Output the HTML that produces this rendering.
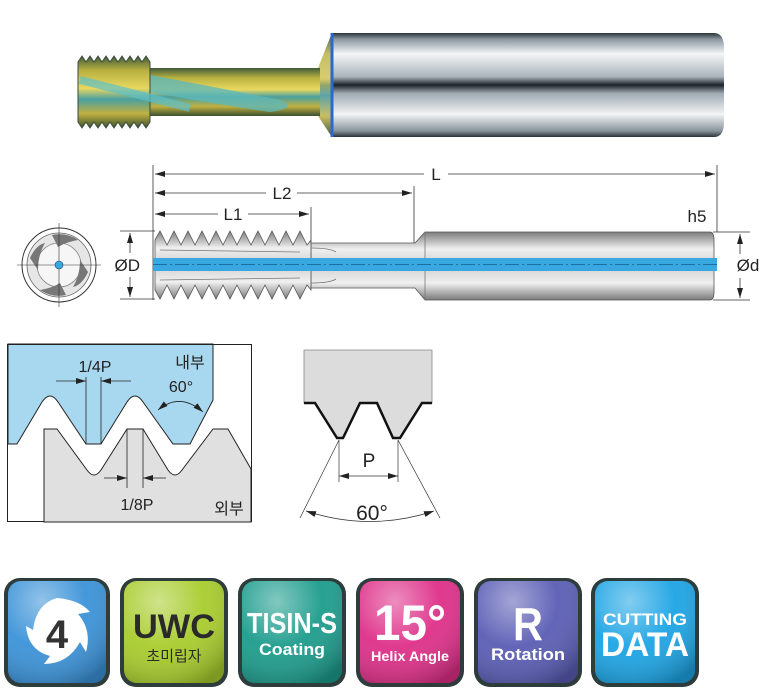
<!DOCTYPE html>
<html><head><meta charset="utf-8"><style>
html,body{margin:0;padding:0;background:#fff;}
svg{display:block;}
text{font-family:"Liberation Sans","Noto Sans CJK KR",sans-serif;}
</style></head><body>
<svg width="766" height="694" viewBox="0 0 766 694" xmlns="http://www.w3.org/2000/svg">
<defs>
<linearGradient id="shk" x1="0" y1="0" x2="0" y2="1">
<stop offset="0" stop-color="#2a3238"/><stop offset="0.06" stop-color="#8d98a0"/><stop offset="0.2" stop-color="#f4f6f7"/><stop offset="0.42" stop-color="#aab4bb"/><stop offset="0.5" stop-color="#1b2328"/><stop offset="0.58" stop-color="#a0aab2"/><stop offset="0.78" stop-color="#f2f4f5"/><stop offset="0.94" stop-color="#8a959d"/><stop offset="1" stop-color="#2a3238"/>
</linearGradient>
<linearGradient id="gold" x1="0" y1="0" x2="0" y2="1">
<stop offset="0" stop-color="#3e5a3a"/><stop offset="0.2" stop-color="#b8b040"/><stop offset="0.45" stop-color="#e8d860"/><stop offset="0.6" stop-color="#4aa0a0"/><stop offset="0.8" stop-color="#c0b040"/><stop offset="1" stop-color="#3a5030"/>
</linearGradient>
<linearGradient id="gr" x1="0" y1="0" x2="0" y2="1">
<stop offset="0" stop-color="#7c7c7c"/><stop offset="0.25" stop-color="#f0f0f0"/><stop offset="0.5" stop-color="#cfcfcf"/><stop offset="0.75" stop-color="#f0f0f0"/><stop offset="1" stop-color="#7a7a7a"/>
</linearGradient>
<radialGradient id="gloss" cx="0.35" cy="0.2" r="0.9">
<stop offset="0" stop-color="#fff" stop-opacity="0.45"/><stop offset="0.5" stop-color="#fff" stop-opacity="0.05"/><stop offset="1" stop-color="#000" stop-opacity="0.25"/>
</radialGradient>
<marker id="ar" markerWidth="10" markerHeight="6" refX="10" refY="3" orient="auto" markerUnits="userSpaceOnUse"><path d="M0,0 L10,3 L0,6 z" fill="#222"/></marker>
<marker id="al" markerWidth="10" markerHeight="6" refX="0" refY="3" orient="auto" markerUnits="userSpaceOnUse"><path d="M10,0 L0,3 L10,6 z" fill="#222"/></marker>
</defs>

<!-- top rendered tool -->
<path d="M318,68 L332,33 L714,33 Q724,33 724,48 L724,122 Q724,137 714,137 L332,137 L318,116 Z" fill="url(#shk)"/>
<path d="M318,68 L332,33 L332,137 L318,116 Z" fill="url(#gold)" opacity="0.8"/>
<path d="M332,33 L332,137" stroke="#2a6ad0" stroke-width="3"/>
<rect x="148" y="68" width="172" height="48" fill="url(#gold)"/>
<path d="M150,75 Q230,90 280,100 Q300,108 270,112 Q220,105 150,92 Z" fill="#5fb8b8" opacity="0.8"/>
<polygon points="78,62 82,56 86,62 90,56 94,62 98,56 102,62 106,56 110,62 114,56 118,62 122,56 126,62 130,56 134,62 138,56 142,62 146,56 150,62 150,122 146,128 142,122 138,128 134,122 130,128 126,122 122,128 118,122 114,128 110,122 106,128 102,122 98,128 94,122 90,128 86,122 82,128 78,122" fill="url(#gold)" stroke="#3a4a40" stroke-width="1"/>
<path d="M80,80 Q140,95 190,108" stroke="#60c0c8" stroke-width="8" fill="none" opacity="0.7"/>

<!-- dimension lines -->
<g stroke="#333" stroke-width="0.8" fill="none">
<line x1="153" y1="165" x2="153" y2="300"/>
<line x1="311" y1="207" x2="311" y2="245"/>
<line x1="414" y1="186" x2="414" y2="245"/>
<line x1="717" y1="165" x2="717" y2="232"/>
<line x1="155" y1="174" x2="424" y2="174" marker-start="url(#al)"/>
<line x1="448" y1="174" x2="715" y2="174" marker-end="url(#ar)"/>
<line x1="155" y1="193" x2="266" y2="193" marker-start="url(#al)"/>
<line x1="297" y1="193" x2="412" y2="193" marker-end="url(#ar)"/>
<line x1="155" y1="214" x2="218" y2="214" marker-start="url(#al)"/>
<line x1="248" y1="214" x2="309" y2="214" marker-end="url(#ar)"/>
<line x1="120" y1="231" x2="155" y2="231"/>
<line x1="120" y1="299" x2="155" y2="299"/>
<line x1="130" y1="233" x2="130" y2="253" marker-start="url(#al)"/>
<line x1="130" y1="277" x2="130" y2="297" marker-end="url(#ar)"/>
<line x1="713" y1="232" x2="750" y2="232"/>
<line x1="713" y1="300" x2="750" y2="300"/>
<line x1="740" y1="234" x2="740" y2="254" marker-start="url(#al)"/>
<line x1="740" y1="278" x2="740" y2="298" marker-end="url(#ar)"/>
</g>
<g font-size="17" fill="#222" text-anchor="middle">
<text x="436" y="180">L</text>
<text x="282" y="199">L2</text>
<text x="233" y="220">L1</text>
<text x="697" y="222">h5</text>
<text x="140" y="271" text-anchor="end">ØD</text>
<text x="748" y="271" text-anchor="middle">Ød</text>
</g>

<!-- drawing tool -->
<path d="M311,243 L415,243 L425,232 L710,232 Q714,232 714,240 L714,292 Q714,300 710,300 L425,300 L415,288 L311,288 Z" fill="url(#gr)" stroke="#555" stroke-width="0.8"/>
<line x1="425" y1="232" x2="425" y2="300" stroke="#777" stroke-width="0.8"/>
<polygon points="155,240 160,231 167,245 174,231 181,245 188,231 195,245 202,231 209,245 216,231 223,245 230,231 237,245 244,231 251,245 258,231 265,245 272,231 279,245 286,231 293,245 300,231 307,245 311,240 311,290 307,285 300,299 293,285 286,299 279,285 272,299 265,285 258,299 251,285 244,299 237,285 230,299 223,285 216,299 209,285 202,299 195,285 188,299 181,285 174,299 167,285 160,299 155,290" fill="url(#gr)" stroke="#555" stroke-width="0.8"/>
<path d="M160,250 L300,252 M160,280 L300,278 M311,248 Q330,248 336,252 M311,283 Q330,283 336,279" stroke="#777" stroke-width="0.8" fill="none"/>
<rect x="153" y="258" width="564" height="13" fill="#3aa8e0"/>
<line x1="153" y1="264.5" x2="717" y2="264.5" stroke="#1a6ea0" stroke-width="1" stroke-dasharray="14,3,2,3"/>

<!-- end view -->
<circle cx="59" cy="265" r="37" fill="#fff" stroke="#333" stroke-width="1"/>
<circle cx="59" cy="265" r="32" fill="#e6e6e6" stroke="#666" stroke-width="0.8"/>
<circle cx="59" cy="265" r="22" fill="#f6f6f6" stroke="#888" stroke-width="0.8"/>
<g fill="#777"><path d="M30,258 Q36,245 45,243 Q38,255 38,270 Z"/><path d="M88,272 Q82,285 73,287 Q80,275 80,260 Z"/><path d="M52,235 Q66,232 78,240 Q66,242 58,247 Z"/><path d="M66,295 Q52,298 40,290 Q52,288 60,283 Z"/></g>
<line x1="17" y1="265" x2="101" y2="265" stroke="#333" stroke-width="0.6"/>
<line x1="59" y1="223" x2="59" y2="307" stroke="#333" stroke-width="0.6"/>
<circle cx="59" cy="265" r="4" fill="#3aa8e0" stroke="#246" stroke-width="0.6"/>

<!-- thread fit diagram -->
<rect x="7.5" y="344.5" width="244" height="177" fill="#fff" stroke="#222" stroke-width="1"/>
<path d="M8,344 L213,344 L213,400 L190,444 L173,444 L143,402 Q135,390 127,402 L101,444 L86,444 L58,402 Q50,390 42,402 L17,444 L8,444 Z" fill="#a8d8f0" stroke="#222" stroke-width="1"/>
<path d="M44,522 L44,429 L57,429 L87,470 Q94,480 101,470 L127,429 L143,429 L168,470 Q175,480 182,470 L213,429 L228,429 L251,469 L251,522 Z" fill="#e0e0e0" stroke="#222" stroke-width="1"/>
<line x1="7.5" y1="344.5" x2="251.5" y2="344.5" stroke="#222"/>
<g stroke="#222" stroke-width="0.8" fill="none">
<line x1="86" y1="377" x2="86" y2="444"/><line x1="101" y1="377" x2="101" y2="444"/>
<line x1="56" y1="381" x2="86" y2="381" marker-end="url(#ar)"/>
<line x1="131" y1="381" x2="101" y2="381" marker-end="url(#ar)"/>
<line x1="127" y1="429" x2="127" y2="488"/><line x1="143" y1="429" x2="143" y2="488"/>
<line x1="104" y1="478" x2="127" y2="478" marker-end="url(#ar)"/>
<line x1="166" y1="478" x2="143" y2="478" marker-end="url(#ar)"/>
<path d="M158,410 Q180,392 203,412" marker-start="url(#al)" marker-end="url(#ar)"/>
</g>
<g font-size="16" fill="#222" text-anchor="middle">
<text x="95" y="372">1/4P</text>
<text x="181" y="392">60°</text>
<text x="190" y="368">내부</text>
<text x="137" y="510">1/8P</text>
<text x="229" y="514">외부</text>
</g>

<!-- right thread profile -->
<path d="M304,350 L432,350 L432,403 L422,403 L400,438 L393,438 L377,403 L360,403 L343,438 L337,438 L315,403 L304,403 Z" fill="#dcdcdc" stroke="#888" stroke-width="0.8"/>
<polyline points="304,403 315,403 337,438 343,438 360,403 377,403 393,438 400,438 422,403 432,403" fill="none" stroke="#111" stroke-width="2.5"/>
<g stroke="#333" stroke-width="0.7" fill="none">
<line x1="339" y1="440" x2="339" y2="482"/><line x1="398" y1="440" x2="398" y2="482"/>
<line x1="339" y1="476" x2="398" y2="476" marker-start="url(#al)" marker-end="url(#ar)"/>
<line x1="339" y1="440" x2="300" y2="518"/><line x1="398" y1="440" x2="440" y2="518"/>
<path d="M306,511 Q370,532 434,511" marker-start="url(#al)" marker-end="url(#ar)"/>
</g>
<text x="369" y="467" font-size="19" fill="#222" text-anchor="middle">P</text>
<text x="372" y="520" font-size="21" fill="#222" text-anchor="middle">60°</text>

<!-- icons -->
<g>
<rect x="4" y="578" width="106" height="109" rx="16" fill="#2e3c3c"/>
<rect x="8" y="581" width="98" height="102" rx="13" fill="#3a92d8"/>
<rect x="8" y="581" width="98" height="102" rx="13" fill="url(#gloss)"/>
<path d="M57,598 Q80,600 90,612 L78,614 Q92,630 86,652 L80,642 Q68,664 44,664 L50,656 Q28,650 26,626 L33,630 Q36,604 57,598 Z" fill="#fff"/>
<text x="57" y="648" font-size="40" font-weight="bold" fill="#333" text-anchor="middle">4</text>

<rect x="120" y="578" width="108" height="109" rx="16" fill="#2e3c3c"/>
<rect x="124" y="581" width="100" height="102" rx="13" fill="#a8cc2c"/>
<rect x="124" y="581" width="100" height="102" rx="13" fill="url(#gloss)"/>
<text x="174" y="638" font-size="34" font-weight="bold" fill="#2a2a2a" text-anchor="middle" textLength="82" lengthAdjust="spacingAndGlyphs">UWC</text>
<text x="174" y="661" font-size="15" fill="#2a2a2a" text-anchor="middle">초미립자</text>

<rect x="238" y="578" width="108" height="109" rx="16" fill="#2e3c3c"/>
<rect x="242" y="581" width="100" height="102" rx="13" fill="#1c9c8c"/>
<rect x="242" y="581" width="100" height="102" rx="13" fill="url(#gloss)"/>
<text x="292" y="633" font-size="29" font-weight="bold" fill="#fff" text-anchor="middle" textLength="90" lengthAdjust="spacingAndGlyphs">TISIN-S</text>
<text x="292" y="655" font-size="17" font-weight="bold" fill="#fff" text-anchor="middle" textLength="66" lengthAdjust="spacingAndGlyphs">Coating</text>

<rect x="356" y="578" width="108" height="109" rx="16" fill="#2e3c3c"/>
<rect x="360" y="581" width="100" height="102" rx="13" fill="#de2f88"/>
<rect x="360" y="581" width="100" height="102" rx="13" fill="url(#gloss)"/>
<text x="410" y="640" font-size="50" font-weight="bold" fill="#fff" text-anchor="middle" textLength="72" lengthAdjust="spacingAndGlyphs">15°</text>
<text x="410" y="661" font-size="14" font-weight="bold" fill="#fff" text-anchor="middle" textLength="78" lengthAdjust="spacingAndGlyphs">Helix Angle</text>

<rect x="474" y="578" width="108" height="109" rx="16" fill="#2e3c3c"/>
<rect x="478" y="581" width="100" height="102" rx="13" fill="#5a5cb4"/>
<rect x="478" y="581" width="100" height="102" rx="13" fill="url(#gloss)"/>
<text x="528" y="640" font-size="46" font-weight="bold" fill="#fff" text-anchor="middle" textLength="30" lengthAdjust="spacingAndGlyphs">R</text>
<text x="528" y="660" font-size="17" font-weight="bold" fill="#fff" text-anchor="middle" textLength="74" lengthAdjust="spacingAndGlyphs">Rotation</text>

<rect x="591" y="578" width="108" height="109" rx="16" fill="#2e3c3c"/>
<rect x="595" y="581" width="100" height="102" rx="13" fill="#1ca4e4"/>
<rect x="595" y="581" width="100" height="102" rx="13" fill="url(#gloss)"/>
<text x="645" y="625" font-size="17" font-weight="bold" fill="#fff" text-anchor="middle" textLength="84" lengthAdjust="spacingAndGlyphs">CUTTING</text>
<text x="645" y="656" font-size="34" font-weight="bold" fill="#fff" text-anchor="middle" textLength="88" lengthAdjust="spacingAndGlyphs">DATA</text>
</g>
</svg>
</body></html>
